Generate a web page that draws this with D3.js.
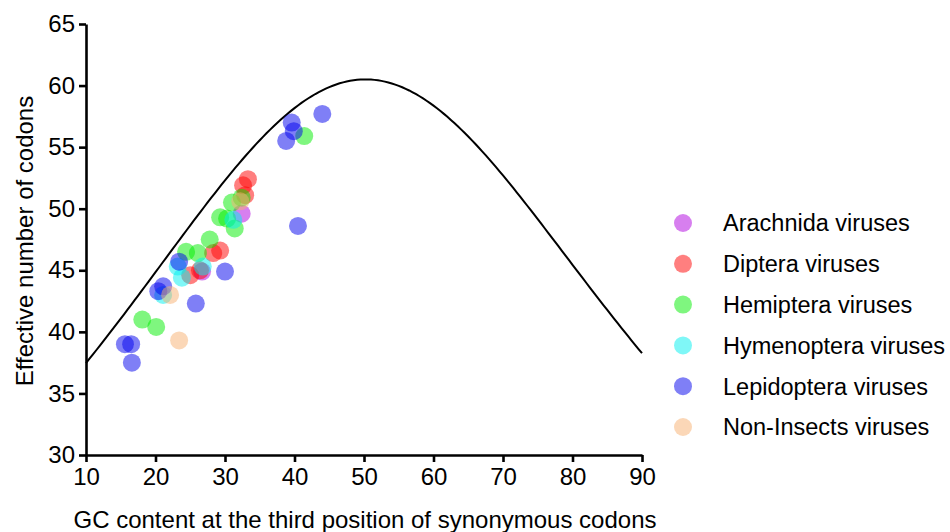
<!DOCTYPE html>
<html>
<head>
<meta charset="utf-8">
<script src="https://cdn.jsdelivr.net/npm/d3@7"></script>
<style>
  body { margin: 0; background: #fff; }
  text { font-family: "Liberation Sans", Arial, sans-serif; }
</style>
</head>
<body>
<script>
// groups and their colours
const groups = ["Arachnida viruses", "Diptera viruses", "Hemiptera viruses",
  "Hymenoptera viruses", "Lepidoptera viruses", "Non-Insects viruses"];
const colors = ["#b000e0", "#ff0000", "#00ee00", "#00f0f0", "#0000ee", "#f8b070"];

// GC3s (%) and ENC per group
const arachnida = [[32.4, 49.6], [26.7, 44.9]];
const diptera = [[33.3, 52.4], [32.6, 51.9], [32.9, 51.1], [29.3, 46.6],
  [28.3, 46.4], [25.0, 44.6], [26.4, 45.0]];
const hemiptera = [[18.1, 41.0], [20.1, 40.4], [24.4, 46.5], [26.1, 46.4],
  [27.8, 47.5], [29.3, 49.3], [30.3, 49.2], [31.0, 50.5], [31.4, 48.4],
  [32.4, 50.9], [41.4, 55.9]];
const hymenoptera = [[23.2, 45.3], [23.8, 44.4], [31.2, 49.1], [26.8, 45.3],
  [21.1, 43.0]];
const lepidoptera = [[15.6, 39.0], [16.5, 39.0], [16.6, 37.5], [20.4, 43.3],
  [21.1, 43.7], [23.4, 45.7], [25.8, 42.3], [30.0, 44.9], [39.6, 57.0],
  [39.9, 56.3], [38.8, 55.5], [44.0, 57.7], [40.5, 48.6]];
const nonInsects = [[22.1, 43.0], [23.4, 39.3], [32.2, 50.6]];
const seriesData = [arachnida, diptera, hemiptera, hymenoptera, lepidoptera, nonInsects];

const xTicks = [10, 20, 30, 40, 50, 60, 70, 80, 90];
const yTicks = [30, 35, 40, 45, 50, 55, 60, 65];

const W = 950, H = 532;
const svg = d3.select("body").append("svg").attr("width", W).attr("height", H);

const x = d3.scaleLinear().domain([10, 90]).range([86, 642]);
const y = d3.scaleLinear().domain([30, 65]).range([455, 24]);

// expected ENC curve (Wright): 2 + s + 29 / (s^2 + (1-s)^2)
const curve = d3.range(10, 90.01, 0.5).map(g => {
  const s = g / 100;
  return [g, 2 + s + 29 / (s * s + (1 - s) * (1 - s))];
});
svg.append("path")
  .datum(curve)
  .attr("fill", "none")
  .attr("stroke", "#000")
  .attr("stroke-width", 2)
  .attr("d", d3.line().x(d => x(d[0])).y(d => y(d[1])));

// points
seriesData.forEach((pts, i) => {
  svg.append("g").selectAll("circle")
    .data(pts)
    .join("circle")
    .attr("cx", d => x(d[0]))
    .attr("cy", d => y(d[1]))
    .attr("r", 9)
    .attr("fill", colors[i])
    .attr("fill-opacity", 0.5);
});

// axes
const xAxis = svg.append("g").attr("transform", `translate(0,${y(30)})`)
  .call(d3.axisBottom(x).tickValues(xTicks).tickSize(7).tickPadding(6).tickSizeOuter(0));
const yAxis = svg.append("g").attr("transform", `translate(${x(10)},0)`)
  .call(d3.axisLeft(y).tickValues(yTicks).tickSize(7).tickPadding(4).tickSizeOuter(0));
[xAxis, yAxis].forEach(a => {
  a.select(".domain").attr("stroke-width", 2.6);
  a.selectAll(".tick line").attr("stroke-width", 2.6);
  a.selectAll(".tick text").attr("font-size", 24).attr("fill", "#000")
    .attr("font-family", "Liberation Sans, Arial, sans-serif");
});

svg.append("text")
  .attr("x", 365).attr("y", 528)
  .attr("text-anchor", "middle").attr("font-size", 24)
  .text("GC content at the third position of synonymous codons");

svg.append("text")
  .attr("transform", "translate(33,241) rotate(-90)")
  .attr("text-anchor", "middle").attr("font-size", 24)
  .text("Effective number of codons");

// legend
const leg = svg.append("g").selectAll("g")
  .data(groups)
  .join("g")
  .attr("transform", (d, i) => `translate(683,${223 + i * 40.8})`);
leg.append("circle").attr("r", 9)
  .attr("fill", (d, i) => colors[i]).attr("fill-opacity", 0.5);
leg.append("text").attr("x", 40).attr("dy", "0.36em")
  .attr("font-size", 23.5).text(d => d);
</script>
</body>
</html>
